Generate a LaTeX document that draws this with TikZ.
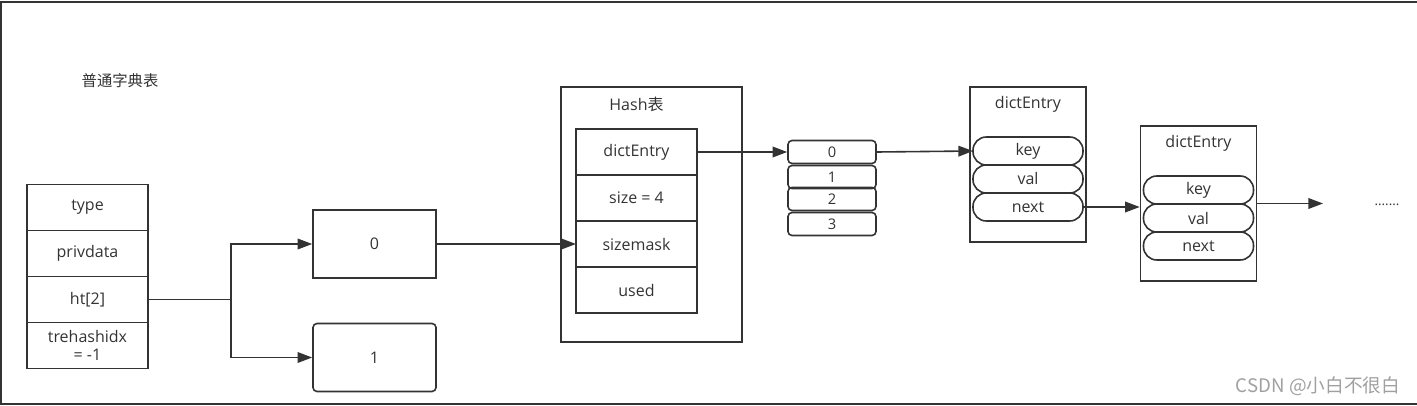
\documentclass[tikz,border=0pt]{standalone}
\usepackage{fontspec}
\setmainfont{Open Sans}
\newfontfamily\cjk{Noto Sans CJK SC}
\usetikzlibrary{arrows.meta,positioning}
\definecolor{linegray}{HTML}{333333}
\definecolor{markgray}{HTML}{A0A0A0}

\begin{document}
\begin{tikzpicture}[x=0.75pt,y=-0.75pt,>={Triangle[length=11pt,width=8pt]},color=linegray,line width=1.2pt]
	\fontsize{12}{14}\selectfont
	\tikzstyle{field}=[draw,rectangle,minimum width=90.75pt,minimum height=34.5pt,inner sep=0pt,outer sep=0pt,align=center]
	\tikzstyle{tbl}=[draw,rectangle,minimum width=92.25pt,minimum height=51pt,inner sep=0pt]
	\tikzstyle{bucket}=[draw,rounded corners=3pt,minimum width=66pt,minimum height=17.25pt,inner sep=0pt,font=\fontsize{11}{12}\selectfont]
	\tikzstyle{entrybox}=[draw,rectangle,minimum width=87pt,minimum height=116.25pt,inner sep=0pt]
	\tikzstyle{pill}=[draw,rounded corners=10pt,minimum width=82.5pt,minimum height=21pt,inner sep=0pt,outer sep=0pt]
	\tikzstyle{annot}=[inner sep=1pt]

	\useasboundingbox (0,0) rectangle (1417,406);
	\draw[line width=1.2pt] (1417,2) -- (1,2) -- (1,404) -- (1417,404);

	\node[annot,font=\cjk\fontsize{11.5}{13}\selectfont] (title) at (120,81) {普通字典表};

	% dict
	\node[field] 	(type)		at (87.5,207.5)	{type};
	\node[field,below=0pt of type] 		(privdata)	{privdata};
	\node[field,below=0pt of privdata] 	(ht)		{ht[2]};
	\node[field,below=0pt of ht] 		(rehash)	{trehashidx\\=\ -1};

	\node[tbl] 	(ht0)	at (374.5,244)		{0};
	\node[tbl,rounded corners=3pt] 	(ht1)	at (374.5,357.5)	{1};

	% hash table
	\node[draw,minimum width=135.75pt,minimum height=191.25pt] (hashbox) at (651.5,214.5) {};
	\node[annot] 	(hashlbl)	at (636.5,104)	{Hash{\cjk 表}};
	\node[field] 	(dentry)	at (636.5,152)	{dictEntry};
	\node[field,below=0pt of dentry] 	(size)		{size = 4};
	\node[field,below=0pt of size] 		(smask)		{sizemask};
	\node[field,below=0pt of smask] 	(used)		{used};

	\node[bucket] 	(b0)	at (832,152)	{0};
	\node[bucket] 	(b1)	at (832,177)	{1};
	\node[bucket] 	(b2)	at (832,199)	{2};
	\node[bucket] 	(b3)	at (832,224)	{3};

	% entries
	\node[entrybox] 	(e1)		at (1028,164.5)		{};
	\node[annot] 		(e1lbl)		at (1028,104)		{dictEntry};
	\node[pill] 		(key1)		at (1028,151)		{key};
	\node[pill,below=0pt of key1] 	(val1)		{val};
	\node[pill,below=0pt of val1] 	(next1)		{next};

	\node[entrybox] 	(e2)		at (1198.5,203.5)	{};
	\node[annot] 		(e2lbl)		at (1198.5,143)		{dictEntry};
	\node[pill] 		(key2)		at (1198.5,190)		{key};
	\node[pill,below=0pt of key2] 	(val2)		{val};
	\node[pill,below=0pt of val2] 	(next2)		{next};

	\coordinate (tail) at (1323,203.5);
	\node[annot,font=\fontsize{10}{12}\selectfont] (dots) at (1387,205) {.......};

	\node[annot,text=markgray,font=\cjk\fontsize{14}{16}\selectfont] (mark) at (1318,386) {CSDN @小白不很白};

	\draw (ht.east) -- ++(83,0) coordinate (fork);
	\draw[->] (fork) |- (ht0);
	\draw[->] (fork) |- (ht1);
	\draw[->] (ht0.east) -- ++(70,0) |- (smask.west);
	\draw[->] (dentry.east) -- (b0.west);
	\draw[->] (b0.east) -- (key1.west);
	\draw[->] (next1.east) -- (next1.east -| e2.west);
	\draw[->] (e2.east) -- (tail);
\end{tikzpicture}
\end{document}
